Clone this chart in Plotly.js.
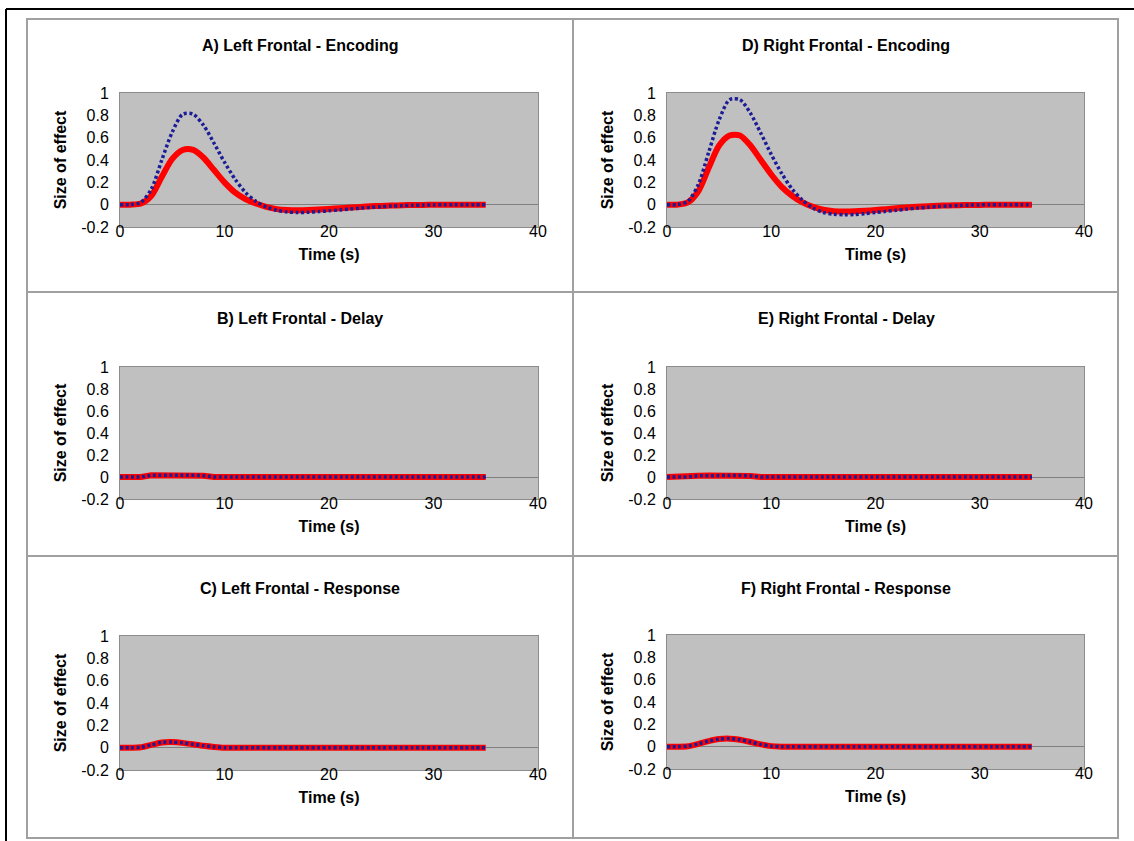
<!DOCTYPE html>
<html>
<head>
<meta charset="utf-8">
<script src="https://cdn.plot.ly/plotly-3.0.1.min.js"></script>
<style>html,body{margin:0;padding:0;background:#fff;}#chart{width:1134px;height:841px;}</style>
</head>
<body>
<div id="chart"></div>
<script>
// ---- data ----
const time = [0,1,2,3,4,5,6,7,8,9,10,11,12,13,14,15,16,17,18,19,20,21,22,23,24,25,26,27,28,29,30,31,32,33,34,35];

const panelTitles = ['A) Left Frontal - Encoding','B) Left Frontal - Delay','C) Left Frontal - Response',
                     'D) Right Frontal - Encoding','E) Right Frontal - Delay','F) Right Frontal - Response'];

// A) Left Frontal - Encoding
const redA  = [0,0,0.01,0.08,0.25,0.41,0.49,0.49,0.42,0.31,0.20,0.11,0.05,0.01,-0.02,-0.04,-0.048,-0.05,-0.048,-0.044,-0.038,-0.032,-0.026,-0.02,-0.015,-0.011,-0.008,-0.005,-0.003,-0.002,-0.001,0,0,0,0,0];
const blueA = [0,0,0.02,0.14,0.40,0.65,0.81,0.81,0.71,0.55,0.38,0.23,0.11,0.03,-0.02,-0.05,-0.065,-0.07,-0.068,-0.062,-0.055,-0.047,-0.039,-0.031,-0.024,-0.018,-0.013,-0.009,-0.006,-0.004,-0.002,-0.001,0,0,0,0];
// B) Left Frontal - Delay
const redB  = [0,0,0,0.015,0.016,0.016,0.016,0.015,0.012,0,0,0,0,0,0,0,0,0,0,0,0,0,0,0,0,0,0,0,0,0,0,0,0,0,0,0];
const blueB = [0,0,0,0.015,0.016,0.016,0.016,0.015,0.012,0,0,0,0,0,0,0,0,0,0,0,0,0,0,0,0,0,0,0,0,0,0,0,0,0,0,0];
// C) Left Frontal - Response
const redC  = [0,0,0.003,0.025,0.047,0.05,0.043,0.03,0.017,0.007,0,0,0,0,0,0,0,0,0,0,0,0,0,0,0,0,0,0,0,0,0,0,0,0,0,0];
const blueC = [0,0,0.003,0.025,0.047,0.05,0.043,0.03,0.017,0.007,0,0,0,0,0,0,0,0,0,0,0,0,0,0,0,0,0,0,0,0,0,0,0,0,0,0];
// D) Right Frontal - Encoding
const redD  = [0,0,0.02,0.12,0.33,0.53,0.62,0.62,0.53,0.40,0.27,0.16,0.08,0.02,-0.02,-0.045,-0.058,-0.062,-0.06,-0.055,-0.048,-0.04,-0.032,-0.025,-0.019,-0.014,-0.01,-0.007,-0.005,-0.003,-0.002,-0.001,0,0,0,0];
const blueD = [0,0,0.03,0.18,0.47,0.76,0.94,0.94,0.82,0.64,0.45,0.28,0.14,0.04,-0.03,-0.07,-0.085,-0.09,-0.088,-0.08,-0.07,-0.06,-0.05,-0.04,-0.031,-0.023,-0.016,-0.011,-0.007,-0.004,-0.002,-0.001,0,0,0,0];
// E) Right Frontal - Delay
const redE  = [0,0,0,0.012,0.014,0.014,0.014,0.013,0.01,0,0,0,0,0,0,0,0,0,0,0,0,0,0,0,0,0,0,0,0,0,0,0,0,0,0,0];
const blueE = [0,0,0,0.012,0.014,0.014,0.014,0.013,0.01,0,0,0,0,0,0,0,0,0,0,0,0,0,0,0,0,0,0,0,0,0,0,0,0,0,0,0];
// F) Right Frontal - Response
const redF  = [0,0,0.004,0.025,0.05,0.068,0.072,0.062,0.042,0.02,0.005,0,0,0,0,0,0,0,0,0,0,0,0,0,0,0,0,0,0,0,0,0,0,0,0,0];
const blueF = [0,0,0.004,0.025,0.05,0.068,0.072,0.062,0.042,0.02,0.005,0,0,0,0,0,0,0,0,0,0,0,0,0,0,0,0,0,0,0,0,0,0,0,0,0];

const xTickVals = [0,10,20,30,40];
const xTickText = ['0','10','20','30','40'];
const yTickVals = [-0.2,0,0.2,0.4,0.6,0.8,1];
const yTickText = ['-0.2','0','0.2','0.4','0.6','0.8','1'];
const xTitle = 'Time (s)';
const yTitle = 'Size of effect';

// ---- layout geometry (pixels) ----
const W = 1134, H = 841;
const px = v => v / W;
const py = v => 1 - v / H;

const panels = [
  {red: redA, blue: blueA, title: panelTitles[0], x: [120,538], y: [93,227],  spline: true},
  {red: redB, blue: blueB, title: panelTitles[1], x: [120,538], y: [367,499], spline: false},
  {red: redC, blue: blueC, title: panelTitles[2], x: [120,538], y: [636,770], spline: true},
  {red: redD, blue: blueD, title: panelTitles[3], x: [667,1084], y: [93,227],  spline: true},
  {red: redE, blue: blueE, title: panelTitles[4], x: [667,1084], y: [367,499], spline: false},
  {red: redF, blue: blueF, title: panelTitles[5], x: [667,1084], y: [635,769], spline: true}
];
const titleY = [45, 318, 588];
const titleX = [300, 846];

const FONT = 'Liberation Sans, Arial, sans-serif';
const traces = [];
const layout = {
  width: W, height: H,
  margin: {l: 0, r: 0, t: 0, b: 0},
  paper_bgcolor: '#ffffff',
  plot_bgcolor: '#c0c0c0',
  showlegend: false,
  font: {family: FONT, color: '#000', size: 16},
  annotations: [],
  shapes: []
};

panels.forEach((p, i) => {
  const n = i + 1;
  const xa = n === 1 ? 'x' : 'x' + n;
  const ya = n === 1 ? 'y' : 'y' + n;
  const shape = p.spline ? 'spline' : 'linear';
  traces.push({x: time, y: p.red, xaxis: xa, yaxis: ya, type: 'scatter', mode: 'lines',
    line: {color: '#ff0000', width: 6, shape: shape, smoothing: 0.8}, hoverinfo: 'skip'});
  traces.push({x: time, y: p.blue, xaxis: xa, yaxis: ya, type: 'scatter', mode: 'lines',
    line: {color: '#1c1c96', width: 3.5, dash: '3px,2.5px', shape: shape, smoothing: 0.8}, hoverinfo: 'skip'});

  const xkey = n === 1 ? 'xaxis' : 'xaxis' + n;
  const ykey = n === 1 ? 'yaxis' : 'yaxis' + n;
  layout[xkey] = {
    domain: [px(p.x[0]), px(p.x[1])], anchor: ya, range: [0, 40],
    tickmode: 'array', tickvals: xTickVals, ticktext: xTickText,
    ticks: '', ticklabelstandoff: -10, showgrid: false, zeroline: false,
    showline: true, linecolor: '#8c8c8c', linewidth: 1, mirror: true,
    tickfont: {family: FONT, size: 16, color: '#000'},
    title: {text: xTitle, standoff: 9, font: {family: FONT, size: 16, weight: 'bold', color: '#000'}},
    fixedrange: true
  };
  layout[ykey] = {
    domain: [py(p.y[1]), py(p.y[0])], anchor: xa, range: [-0.2, 1],
    tickmode: 'array', tickvals: yTickVals, ticktext: yTickText,
    ticks: '', ticklabelstandoff: 7, showgrid: false,
    zeroline: true, zerolinecolor: '#808080', zerolinewidth: 1,
    showline: true, linecolor: '#8c8c8c', linewidth: 1, mirror: true,
    tickfont: {family: FONT, size: 16, color: '#000'},
    title: {text: yTitle, standoff: 10, font: {family: FONT, size: 16, weight: 'bold', color: '#000'}},
    fixedrange: true
  };
  layout.annotations.push({
    text: p.title, xref: 'paper', yref: 'paper',
    x: px(titleX[Math.floor(i / 3)]), y: py(titleY[i % 3]),
    xanchor: 'center', yanchor: 'middle', showarrow: false,
    font: {family: FONT, size: 16, weight: 'bold', color: '#000'}
  });
});

// frame lines (decoration)
const gray = {color: '#a0a0a0', width: 2};
const black = {color: '#000', width: 2};
layout.shapes.push(
  {type: 'line', xref: 'paper', yref: 'paper', x0: px(6), x1: px(1134), y0: py(9), y1: py(9), line: black},
  {type: 'line', xref: 'paper', yref: 'paper', x0: px(6), x1: px(6), y0: py(9), y1: py(841), line: black},
  {type: 'rect', xref: 'paper', yref: 'paper', x0: px(27), x1: px(1118), y0: py(19), y1: py(838), line: gray},
  {type: 'line', xref: 'paper', yref: 'paper', x0: px(573), x1: px(573), y0: py(19), y1: py(838), line: gray},
  {type: 'line', xref: 'paper', yref: 'paper', x0: px(27), x1: px(1118), y0: py(292), y1: py(292), line: gray},
  {type: 'line', xref: 'paper', yref: 'paper', x0: px(27), x1: px(1118), y0: py(556), y1: py(556), line: gray}
);

Plotly.newPlot('chart', traces, layout, {staticPlot: true, displayModeBar: false});
</script>
</body>
</html>
